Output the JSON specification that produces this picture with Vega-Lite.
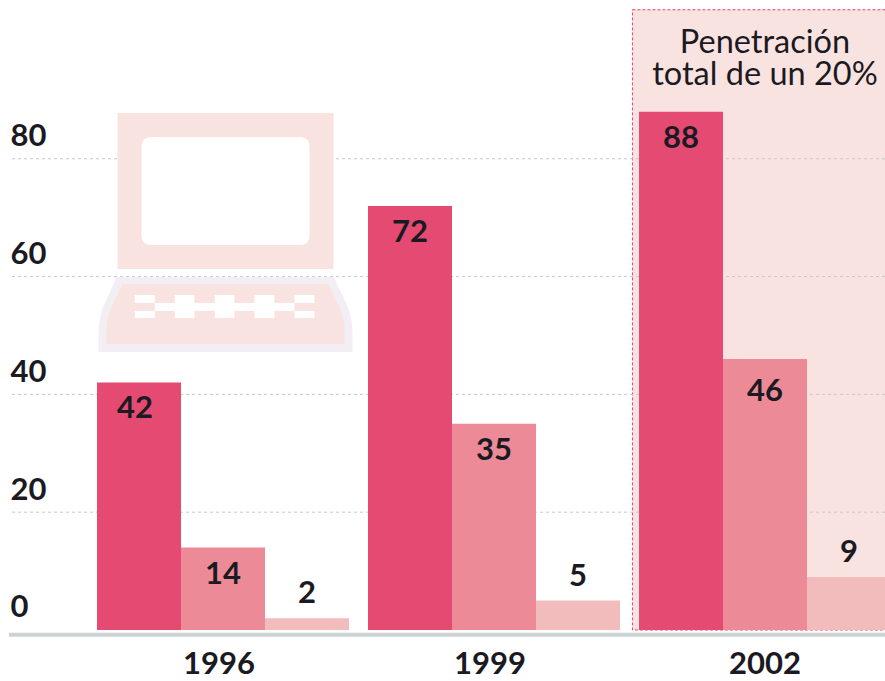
{"$schema":"https://vega.github.io/schema/vega-lite/v6.json","width":876,"height":681,"autosize":{"type":"none"},"padding":{"left":9,"right":0,"top":0,"bottom":0},"background":"white","config":{"view":{"stroke":null},"font":"Lato"},"datasets":{"bars":[{"year":"1996","serie":"a","value":42},{"year":"1996","serie":"b","value":14},{"year":"1996","serie":"c","value":2},{"year":"1999","serie":"a","value":72},{"year":"1999","serie":"b","value":35},{"year":"1999","serie":"c","value":5},{"year":"2002","serie":"a","value":88},{"year":"2002","serie":"b","value":46},{"year":"2002","serie":"c","value":9}],"band":[{"year":"2002","top":105.3,"bottom":0}],"grid":[{"y":20},{"y":40},{"y":60},{"y":80}],"icon":[{"year":"1996","y":67.5,"part":"kbOuter"},{"year":"1996","y":67.5,"part":"kbInner"},{"year":"1996","y":67.5,"part":"keys"},{"year":"1996","y":67.5,"part":"monitor"},{"year":"1996","y":67.5,"part":"screen"}],"note":[{"year":"2002","y":99.65,"text":"Penetración"},{"year":"2002","y":94.25,"text":"total de un 20%"}],"base":[{"y":-0.8}]},"encoding":{"x":{"field":"year","type":"nominal","scale":{"domain":["1996","1999","2002"],"range":[88,882],"paddingInner":0.0701,"paddingOuter":0},"axis":{"title":null,"domain":false,"ticks":false,"grid":false,"labelAngle":0,"labelFont":"Lato","labelFontWeight":"bold","labelFontSize":31,"labelColor":"#1b1a22","labelBaseline":"middle","labelPadding":-17,"labelOffset":{"condition":{"test":"datum.value=='2002'","value":0},"value":-4}}}},"layer":[{"data":{"name":"band"},"mark":{"type":"bar","width":{"band":1.052},"fill":"#f9e3e1","stroke":"#ee3f70","strokeWidth":1,"strokeDash":[3,2]},"encoding":{"y":{"field":"top","type":"quantitative","stack":null,"scale":{"domain":[-8.66,106.96],"range":[681,0],"nice":false,"zero":false},"axis":{"title":null,"values":[0,20,40,60,80],"domain":false,"ticks":false,"grid":false,"labelFont":"Lato","labelFontWeight":"bold","labelFontSize":31,"labelColor":"#1b1a22","labelAlign":"left","labelBaseline":"middle","labelPadding":-1,"labelOffset":-22}},"y2":{"field":"bottom"}}},{"data":{"name":"grid"},"mark":{"type":"rule","color":"#c8c8c8","strokeWidth":1,"strokeDash":[3,3]},"encoding":{"x":null,"y":{"field":"y","type":"quantitative"}}},{"data":{"name":"icon"},"mark":{"type":"point","filled":true,"size":40000,"opacity":1,"strokeWidth":0},"encoding":{"y":{"field":"y","type":"quantitative"},"shape":{"field":"part","type":"nominal","legend":null,"scale":{"domain":["kbOuter","kbInner","keys","monitor","screen"],"range":["M-1.065 0.445H1.108L1.225 0.695Q1.295 0.825 1.295 1V1.195H-1.245V1Q-1.245 0.825 -1.175 0.695Z","M-1.005 0.515H1.055L1.155 0.725Q1.215 0.845 1.215 0.98V1.115H-1.165V0.98Q-1.165 0.845 -1.105 0.725Z","M-0.882 0.625H-0.682V0.705H0.715V0.625H0.915V0.705H0.715V0.785H0.915V0.855H0.715V0.785H-0.682V0.855H-0.882V0.785H-0.682V0.705H-0.882ZM-0.482 0.625H-0.285V0.855H-0.482ZM-0.082 0.625H0.115V0.855H-0.082ZM0.315 0.625H0.515V0.855H0.315Z","M-1.055 -1.195H1.105V0.365H-1.055Z","M-0.715 -0.955H0.765Q0.865 -0.955 0.865 -0.855V0.025Q0.865 0.125 0.765 0.125H-0.715Q-0.815 0.125 -0.815 0.025V-0.855Q-0.815 -0.955 -0.715 -0.955Z"]}},"fill":{"field":"part","type":"nominal","legend":null,"scale":{"domain":["kbOuter","kbInner","keys","monitor","screen"],"range":["#f3eef4","#f9e3e1","#ffffff","#f9e3e1","#ffffff"]}}}},{"data":{"name":"bars"},"mark":{"type":"bar"},"encoding":{"xOffset":{"field":"serie","type":"nominal","scale":{"paddingInner":0,"paddingOuter":0}},"y":{"field":"value","type":"quantitative","stack":null},"color":{"field":"serie","type":"nominal","legend":null,"scale":{"domain":["a","b","c"],"range":["#e44a72","#ec8a97","#f3bcbc"]}}}},{"data":{"name":"bars"},"transform":[{"filter":"datum.value>=14 && datum.value!=46 && datum.value!=42"}],"mark":{"type":"text","font":"Lato","fontWeight":"bold","fontSize":31,"color":"#1b1a22","baseline":"middle","dy":27},"encoding":{"xOffset":{"field":"serie","type":"nominal","scale":{"paddingInner":0,"paddingOuter":0}},"y":{"field":"value","type":"quantitative"},"text":{"field":"value","type":"quantitative"}}},{"data":{"name":"bars"},"transform":[{"filter":"datum.value==42"}],"mark":{"type":"text","font":"Lato","fontWeight":"bold","fontSize":31,"color":"#1b1a22","baseline":"middle","dy":26,"dx":-4},"encoding":{"xOffset":{"field":"serie","type":"nominal","scale":{"paddingInner":0,"paddingOuter":0}},"y":{"field":"value","type":"quantitative"},"text":{"field":"value","type":"quantitative"}}},{"data":{"name":"bars"},"transform":[{"filter":"datum.value==46"}],"mark":{"type":"text","font":"Lato","fontWeight":"bold","fontSize":31,"color":"#1b1a22","baseline":"middle","dy":33},"encoding":{"xOffset":{"field":"serie","type":"nominal","scale":{"paddingInner":0,"paddingOuter":0}},"y":{"field":"value","type":"quantitative"},"text":{"field":"value","type":"quantitative"}}},{"data":{"name":"bars"},"transform":[{"filter":"datum.value<14"}],"mark":{"type":"text","font":"Lato","fontWeight":"bold","fontSize":31,"color":"#1b1a22","baseline":"middle","dy":-24},"encoding":{"xOffset":{"field":"serie","type":"nominal","scale":{"paddingInner":0,"paddingOuter":0}},"y":{"field":"value","type":"quantitative"},"text":{"field":"value","type":"quantitative"}}},{"data":{"name":"note"},"mark":{"type":"text","font":"Lato","fontSize":32.5,"color":"#1b1a22","baseline":"middle","align":"center"},"encoding":{"y":{"field":"y","type":"quantitative"},"text":{"field":"text"}}},{"data":{"name":"base"},"mark":{"type":"rule","color":"#cdd3d2","strokeWidth":4},"encoding":{"x":null,"y":{"field":"y","type":"quantitative"}}}]}
